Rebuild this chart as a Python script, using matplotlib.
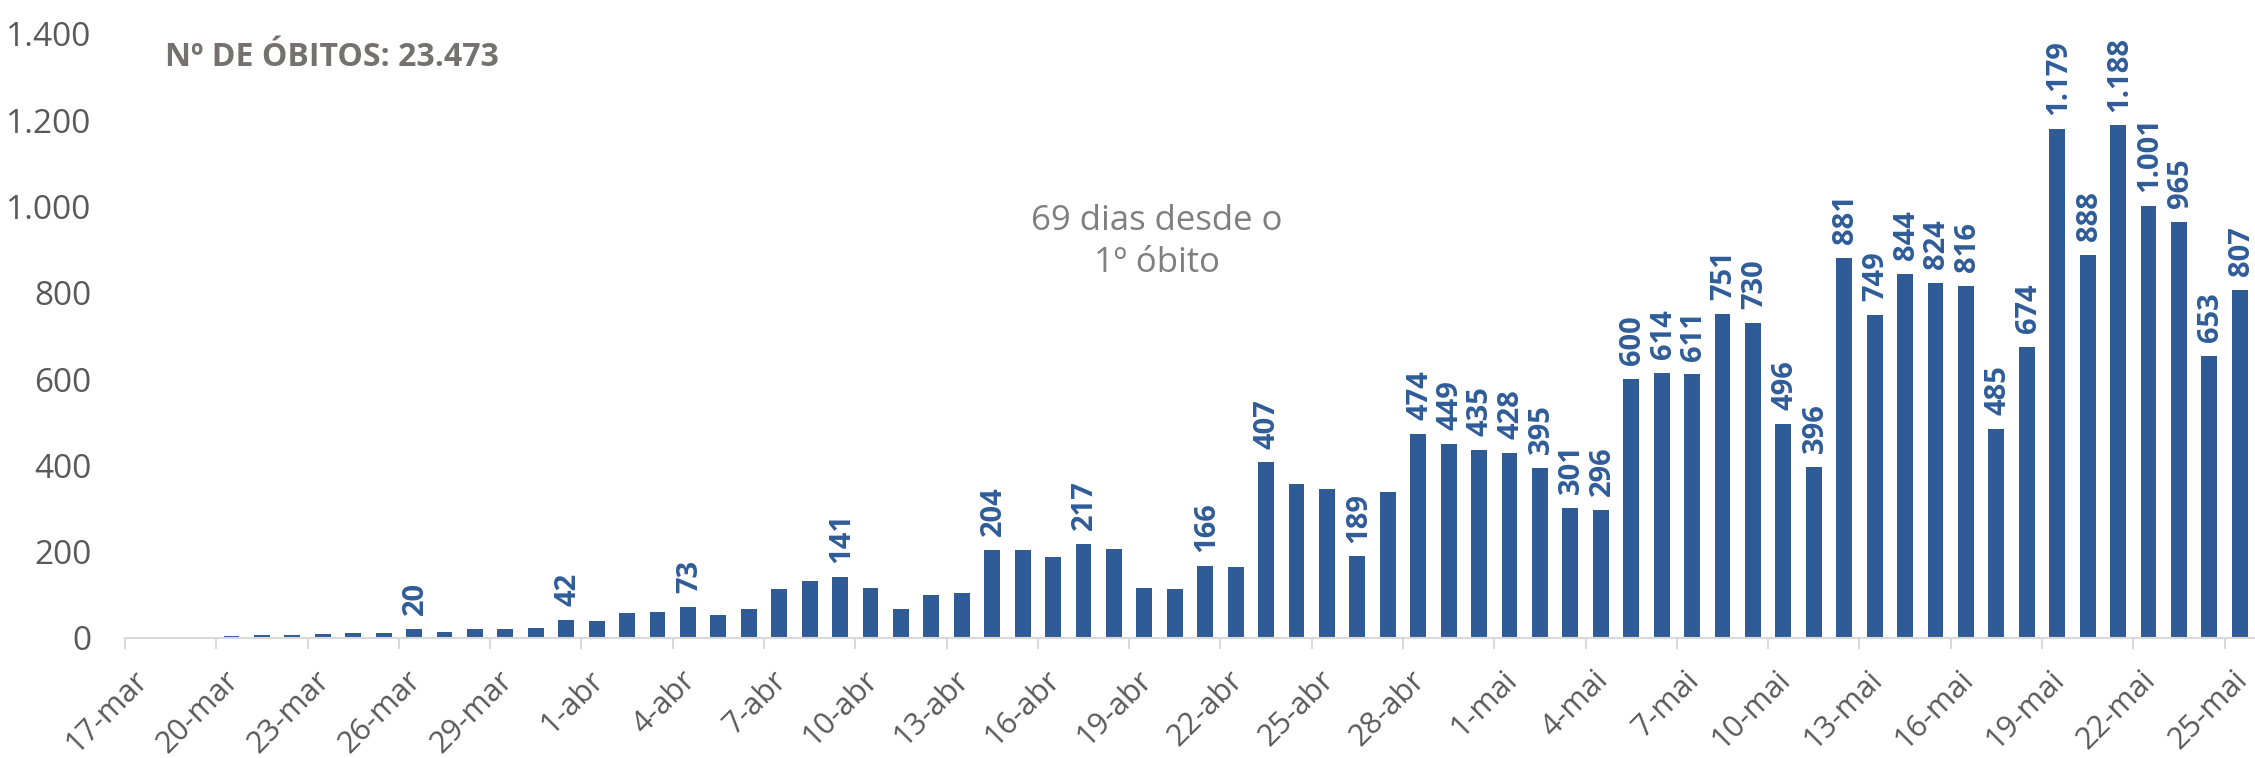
import numpy as np
import pandas as pd
import matplotlib
matplotlib.use('Agg')
import matplotlib.pyplot as plt
from matplotlib.ticker import FuncFormatter
from matplotlib.transforms import ScaledTranslation

plt.rcParams['font.family'] = ['Open Sans', 'DejaVu Sans']

meses = {3: 'mar', 4: 'abr', 5: 'mai'}
dias = pd.date_range('2020-03-17', '2020-05-25')
categorias = [f"{d.day}-{meses[d.month]}" for d in dias]

# óbitos por dia (17-mar a 25-mai)
obitos = [1, 3, 2, 5, 7, 7, 9, 12, 11, 20,
          15, 22, 22, 23, 42,
          40, 58, 60, 73, 54, 67, 114, 133, 141, 115,
          68, 99, 105, 204, 204, 188, 217, 206, 115, 113,
          166, 165, 407, 357, 346, 189, 338, 474, 449, 435,
          428, 395, 301, 296, 600, 614, 611, 751, 730, 496,
          396, 881, 749, 844, 824, 816, 485, 674, 1179, 888,
          1188, 1001, 965, 653, 807]

com_rotulo = ['26-mar', '31-mar', '4-abr', '9-abr', '14-abr', '17-abr',
              '21-abr', '23-abr', '26-abr'] + categorias[categorias.index('28-abr'):]

nota = '69 dias desde o\n1º óbito'


def fmt(v):
    return f"{int(v):,}".replace(',', '.')


azul = '#2F5C97'
cinza = '#595959'

fig = plt.figure(figsize=(22.55, 7.58), dpi=100)
ax = fig.add_axes([125 / 2255, 120 / 758, 2130 / 2255, 604 / 758])

x = np.arange(len(obitos))
ax.bar(x, obitos, width=0.52, color=azul)

for i, v in enumerate(obitos):
    if categorias[i] in com_rotulo:
        ax.annotate(fmt(v), (i, v), xytext=(1, 10), textcoords='offset points',
                    rotation=90, ha='center', va='bottom', fontsize=21,
                    fontweight='bold', color=azul)

ax.set_xlim(-0.5, len(obitos) - 0.5)
ax.set_ylim(0, 1400)
ax.set_yticks(range(0, 1401, 200))
ax.yaxis.set_major_formatter(FuncFormatter(lambda v, p: fmt(v)))
ax.tick_params(axis='y', length=0, pad=24, labelsize=24, labelcolor=cinza)

ax.set_xticks(x[::3])
ax.set_xticklabels(categorias[::3])
ax.set_xticks(x[::3] - 0.5, minor=True)
ax.tick_params(axis='x', which='major', length=0, pad=27, labelsize=22, labelcolor=cinza)
ax.tick_params(axis='x', which='minor', length=8, width=1.5, color='#D9D9D9')
desloc = ScaledTranslation(2 / 72, 0, fig.dpi_scale_trans)
for lbl in ax.get_xticklabels():
    lbl.set_rotation(45)
    lbl.set_ha('right')
    lbl.set_va('center')
    lbl.set_rotation_mode('anchor')
    lbl.set_transform(lbl.get_transform() + desloc)

for s in ['left', 'top', 'right']:
    ax.spines[s].set_visible(False)
ax.spines['bottom'].set_color('#D9D9D9')
ax.spines['bottom'].set_linewidth(1.5)

fig.text(165 / 2255, 1 - 57 / 758, 'Nº DE ÓBITOS: ' + fmt(sum(obitos)),
         fontsize=23, fontweight='bold', color='#767171', ha='left', va='center')
fig.text(1157 / 2255, 1 - 242 / 758, nota, fontsize=25, color='#7F7F7F',
         ha='center', va='center', linespacing=1.3)

fig.savefig('out.png', dpi=100)
